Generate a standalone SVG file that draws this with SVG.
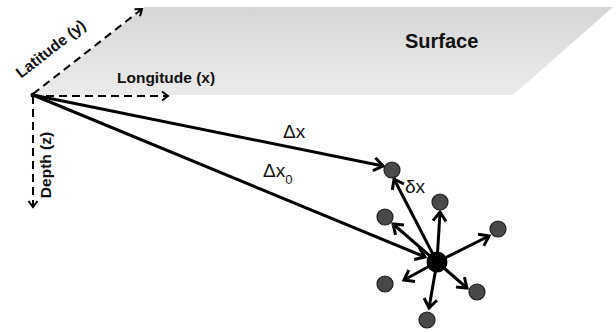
<svg xmlns="http://www.w3.org/2000/svg" width="616" height="332" viewBox="0 0 616 332">
<defs>
<linearGradient id="surf" x1="0" y1="0" x2="0" y2="1">
<stop offset="0" stop-color="#d6d6d6"/>
<stop offset="1" stop-color="#ebebeb"/>
</linearGradient>
<marker id="ah" markerUnits="userSpaceOnUse" viewBox="-12 -9 14 18" markerWidth="14" markerHeight="18" refX="0" refY="0" orient="auto" overflow="visible">
<path d="M-9,-6.5 L0,0 L-9,6.5" fill="none" stroke="#000" stroke-width="3" stroke-linejoin="miter" stroke-linecap="butt"/>
</marker>
<marker id="ahd" markerUnits="userSpaceOnUse" viewBox="-10 -7 12 14" markerWidth="12" markerHeight="14" refX="0" refY="0" orient="auto" overflow="visible">
<path d="M-6,-4.5 L0,0 L-6,4.5" fill="none" stroke="#000" stroke-width="2"/>
</marker>
<style>
.lbl{font-family:"Liberation Sans",Arial,sans-serif;font-weight:bold;fill:#111}
.sym{font-family:"Liberation Sans",Arial,sans-serif;fill:#111}
.solid{stroke:#000;stroke-width:3;fill:none;marker-end:url(#ah)}
.dash{stroke:#000;stroke-width:2;fill:none;stroke-dasharray:8 5;marker-end:url(#ahd)}
.pt{fill:#484848;stroke:#1e1e1e;stroke-width:1.2}
</style>
</defs>
<g id="surface">
<polygon points="33,95 145,7 613,7 513,95" fill="url(#surf)"/>
<text class="lbl" x="405" y="48" font-size="20">Surface</text>
</g>
<g id="connectors">
<line class="dash" x1="33" y1="96" x2="168" y2="96"/>
<line class="dash" x1="33" y1="94" x2="142" y2="9"/>
<line class="dash" x1="33" y1="96" x2="33" y2="207"/>
<line class="solid" x1="33" y1="95" x2="383" y2="166"/>
<line class="solid" x1="33" y1="95" x2="425" y2="257"/>
<line class="solid" x1="437" y1="262" x2="394" y2="179"/>
<line class="solid" x1="437" y1="262" x2="393" y2="224"/>
<line class="solid" x1="437" y1="262" x2="440" y2="212"/>
<line class="solid" x1="437" y1="262" x2="489" y2="236"/>
<line class="solid" x1="437" y1="262" x2="404" y2="280"/>
<line class="solid" x1="437" y1="262" x2="467" y2="288"/>
<line class="solid" x1="437" y1="262" x2="429" y2="308"/>
</g>
<g id="origin">
<circle cx="33" cy="95" r="2.5" fill="#000"/>
</g>
<g id="axis-labels">
<text class="lbl" x="117" y="83" font-size="15.5">Longitude (x)</text>
<text class="lbl" font-size="15.5" text-anchor="middle" transform="translate(54,53) rotate(-38)">Latitude (y)</text>
<text class="lbl" font-size="15.5" text-anchor="middle" transform="translate(51,165) rotate(-90)">Depth (z)</text>
</g>
<g id="vector-labels">
<text class="sym" x="283" y="138" font-size="19">Δx</text>
<text class="sym" x="263" y="177" font-size="19">Δx<tspan font-size="13" dy="7">0</tspan></text>
<text class="sym" x="405" y="193" font-size="19">δx</text>
</g>
<g id="center">
<circle cx="437" cy="262" r="10.5" fill="#000"/>
</g>
<g id="p1"><circle class="pt" cx="392" cy="170" r="8"/></g>
<g id="p2"><circle class="pt" cx="385" cy="217" r="8"/></g>
<g id="p3"><circle class="pt" cx="440" cy="202" r="8"/></g>
<g id="p4"><circle class="pt" cx="498" cy="229" r="8"/></g>
<g id="p5"><circle class="pt" cx="385" cy="284" r="8"/></g>
<g id="p6"><circle class="pt" cx="477" cy="292" r="8"/></g>
<g id="p7"><circle class="pt" cx="427" cy="320" r="8"/></g>
</svg>
